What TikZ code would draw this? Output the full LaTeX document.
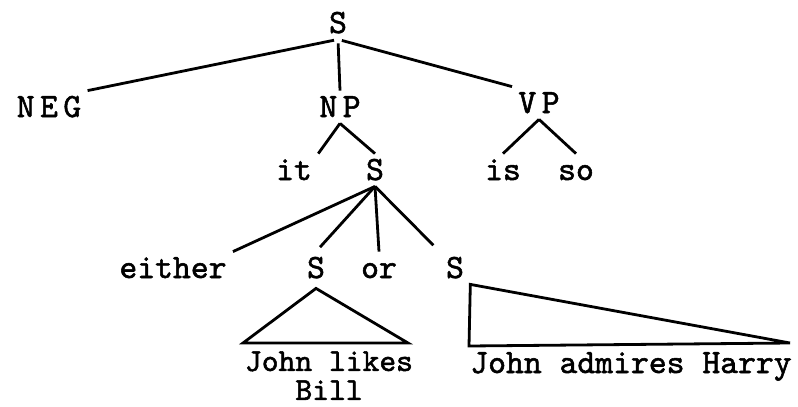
\documentclass[tikz,border=0pt]{standalone}
\usepackage{fontspec}
\setmonofont{lmmono10-regular.otf}[FakeBold=1.6]
\newfontfamily\catfont{lmmono10-regular.otf}[LetterSpace=16, FakeBold=1.6]
\usepackage{tikz}
\usetikzlibrary{positioning, calc}
\tikzset{
  treenode/.style = {inner sep=5pt, text height=20pt, text depth=0pt, anchor=base},
  cat_n/.style = {treenode, font=\catfont\fontsize{34}{38}\selectfont},
  wrd_n/.style = {treenode, font=\ttfamily\fontsize{34}{38}\selectfont},
  leaf_n/.style = {align=center, inner sep=0pt, anchor=north, font=\ttfamily\fontsize{32}{29}\selectfont},
  br/.style = {line width=2.8pt}
}
\begin{document}
\begin{tikzpicture}[x=1pt, y=-1pt, br]
  \useasboundingbox (0,0) rectangle (798,407);
  % upper part
  \node [cat_n] (root) at (338,33) {S};
  \node [cat_n] (neg) at (49,117) {NEG};
  \node [cat_n] (np) at (340,117) {NP};
  \node [cat_n] (vp) at (539,113) {VP};
  \node [wrd_n] (it) at (294,180) {it};
  \node [cat_n] (s2) at (375,180) {S};
  \node [wrd_n] (is) at (503,180) {is};
  \node [wrd_n] (so) at (576,180) {so};
  % conjoined part
  \node [wrd_n] (either) at (173,278) {either};
  \node [cat_n] (s3) at (316,278) {S};
  \node [wrd_n] (or) at (379,278) {or};
  \node [cat_n] (s4) at (455,278) {S};
  \node [leaf_n] (likes) at (329,350) {John likes\\Bill};
  \node [wrd_n] (harry) at (631,373) {John admires Harry};
  \coordinate (t1l) at (243,343);
  \coordinate (t1r) at (408,343);
  \coordinate (t2b) at (469,346);
  \coordinate (t2c) at (790,343);

  \draw [shorten <=4pt] (root.south) -- (neg.north east);
  \draw [shorten <=4pt] (root.south) -- (np.north);
  \draw [shorten <=4pt] (root.south) -- (vp.north west);
  \draw (np.south) -- (it.north east);
  \draw (np.south) -- (s2.north);
  \draw (vp.south) -- (is.north);
  \draw (vp.south) -- (so.north);
  \draw (s2.south) -- (either.north east);
  \draw [shorten >=6pt] (s2.south) -- (s3.north);
  \draw (s2.south) -- (or.north);
  \draw [shorten >=9pt] (s2.south) -- (s4.north west);
  \draw ([yshift=-4pt]s3.south) -- (t1l) -- (t1r) -- cycle;
  \draw (s4.south east) -- (t2b) -- (t2c) -- cycle;
\end{tikzpicture}
\end{document}
